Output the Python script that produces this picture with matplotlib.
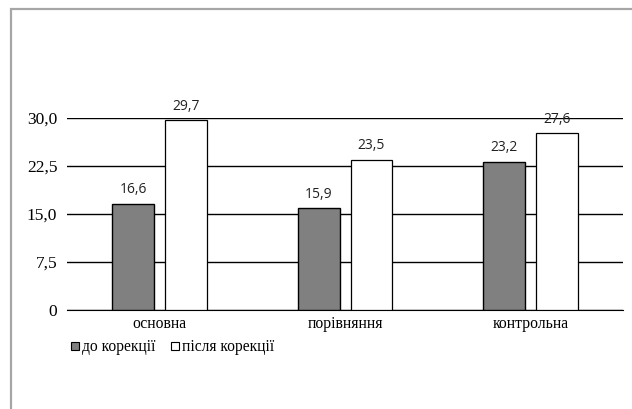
import numpy as np
import matplotlib
matplotlib.use("Agg")
import matplotlib.pyplot as plt
from matplotlib.patches import Patch, Rectangle

# groups and values
groups = ['основна', 'порівняння', 'контрольна']
before = [16.6, 15.9, 23.2]
after = [29.7, 23.5, 27.6]
series_names = ['до корекції', 'після корекції']
yticks = [0, 7.5, 15.0, 22.5, 30.0]
ytick_labels = ['0', '7,5', '15,0', '22,5', '30,0']

fig = plt.figure(figsize=(6.32, 4.09), dpi=100)
ax = fig.add_axes([0.106, 0.242, 0.880, 0.4695])

# grey frame around the chart (left and top visible)
fig.patches.append(Rectangle((11/632, -0.05), 1.2, 1 - 9/409 + 0.05, transform=fig.transFigure,
                             fill=False, edgecolor='#a6a6a6', linewidth=1.6))

x = np.arange(len(groups))
w = 0.225
off = 0.1425
b1 = ax.bar(x - off, before, w, color='#808080', edgecolor='black', linewidth=1.0, zorder=3)
b2 = ax.bar(x + off, after, w, color='white', edgecolor='black', linewidth=0.9, zorder=3)

for bars, vals in [(b1, before), (b2, after)]:
    for r, v in zip(bars, vals):
        ax.text(r.get_x() + r.get_width()/2, v + 1.0, f'{v:.1f}'.replace('.', ','),
                ha='center', va='bottom', fontsize=10, family='Open Sans', color='#222222')

ax.set_xlim(-0.5, 2.5)
ax.set_ylim(0, 30)
ax.set_yticks(yticks)
ax.set_yticklabels(ytick_labels, family='Liberation Serif', fontsize=12.5)
ax.set_xticks(x)
ax.set_xticklabels(groups, family='Liberation Serif', fontsize=11.3)
ax.tick_params(length=0, pad=7)
ax.tick_params(axis='x', pad=4)
ax.yaxis.grid(True, color='black', linewidth=1.0, zorder=0)
for s in ['left', 'right', 'top']:
    ax.spines[s].set_visible(False)
ax.spines['bottom'].set_color('black')
ax.set_axisbelow(True)

handles = [Patch(facecolor='#808080', edgecolor='black', linewidth=0.8),
           Patch(facecolor='white', edgecolor='black', linewidth=0.8)]
fig.legend(handles, series_names, loc='upper left', bbox_to_anchor=(0.113, 0.17), ncol=2,
           frameon=False, prop={'family': 'Liberation Serif', 'size': 11.2},
           handlelength=0.5, handleheight=0.5, handletextpad=0.2, columnspacing=1.0,
           borderpad=0, borderaxespad=0)

fig.savefig('out.png', dpi=100)
